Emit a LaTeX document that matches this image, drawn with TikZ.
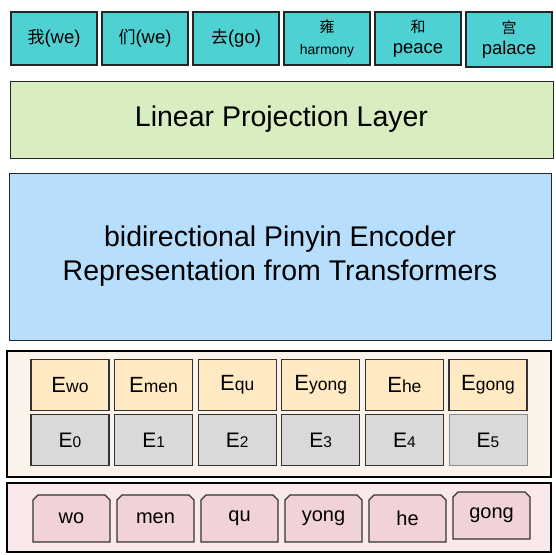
\documentclass[tikz,border=0pt]{standalone}
\usepackage{fontspec}
\setmainfont{Liberation Sans}
\newfontfamily\cjk{Noto Sans CJK SC}
\usetikzlibrary{positioning,shapes.misc}
\definecolor{wordfill}{RGB}{78,209,210}
\definecolor{linfill}{RGB}{216,237,192}
\definecolor{encfill}{RGB}{183,222,252}
\definecolor{embpanelfill}{RGB}{251,242,233}
\definecolor{tokfill}{RGB}{255,234,196}
\definecolor{posfill}{RGB}{217,217,217}
\definecolor{pypanelfill}{RGB}{249,233,235}
\definecolor{pyfill}{RGB}{240,210,215}
\newcommand\embtok[1]{{\fontsize{22}{22}\selectfont E}{\fontsize{17.5}{17.5}\selectfont #1}}
\newcommand\embpos[1]{{\fontsize{21}{21}\selectfont E}{\fontsize{15.5}{15.5}\selectfont #1}}
\newcommand\smallcjk[1]{{\cjk\fontsize{15}{15}\selectfont #1}}
\tikzset{
    %Define style for output characters
    word/.style={
      rectangle,
      draw=black!85, line width=1.3pt,
      outer sep=0pt,
      fill=wordfill,
      minimum width=86pt,
      minimum height=53pt,
      inner sep=0pt,
      align=center,
      font=\fontsize{18.5}{20}\selectfont},
    % Define style for big layers
    layer/.style={
      rectangle,
      draw=black!85, line width=1pt,
      align=center,
      font=\fontsize{28.5}{34}\selectfont},
    % Define style for background panels
    panel/.style={
      rectangle,
      draw=black, line width=1.5pt},
    % Define style for embeddings
    tokemb/.style={
      rectangle,
      draw=black!80, line width=1.2pt,
      outer sep=0pt,
      fill=tokfill,
      minimum width=78pt,
      minimum height=51pt,
      inner sep=0pt},
    posemb/.style={
      tokemb,
      fill=posfill},
    % Define style for pinyin inputs
    pinyin/.style={
      chamfered rectangle,
      chamfered rectangle corners={north west,north east},
      chamfered rectangle sep=2.5pt,
      draw=black!80, line width=1.1pt,
      outer sep=0pt,
      fill=pyfill,
      minimum width=77pt,
      minimum height=47pt,
      inner sep=0pt,
      font=\fontsize{20}{20}\selectfont}
}
\begin{document}
\begin{tikzpicture}[x=1pt, y=-1pt]
    \useasboundingbox (0,0) rectangle (556,554);

    \node[word] (w1) at (54,38.5) {{\cjk\fontsize{17}{17}\selectfont 我}(we)};
    \node[word, right=5pt of w1] (w2) {{\cjk\fontsize{17}{17}\selectfont 们}(we)};
    \node[word, right=5pt of w2] (w3) {{\cjk\fontsize{17}{17}\selectfont 去}(go)};
    \node[word, right=5pt of w3] (w4)
      {\smallcjk{雍}\\[2pt]{\fontsize{14}{14}\selectfont harmony}};
    \node[word, right=5pt of w4] (w5) {\smallcjk{和}\\[1pt]peace};
    \node[word, right=5pt of w5, line width=2pt, minimum height=55pt,
      yshift=-1pt] (w6) {\smallcjk{宫}\\[1pt]palace};

    \node[layer, fill=linfill, minimum width=543pt, minimum height=77pt]
      (linear) at (281.5,119.5) {Linear Projection Layer};

    \node[layer, fill=encfill, minimum width=542pt, minimum height=167pt]
      (encoder) at (280,256.5)
      {bidirectional Pinyin Encoder\\Representation from Transformers};

    \node[panel, fill=embpanelfill, minimum width=544pt, minimum height=126pt]
      (embpanel) at (279,414) {};
    \node[tokemb] (ewo) at (70,385) {\embtok{wo}};
    \node[tokemb, right=5.6pt of ewo] (emen) {\embtok{men}};
    \node[tokemb, right=5.6pt of emen] (equ) {\embtok{qu}};
    \node[tokemb, right=5.6pt of equ] (eyong) {\embtok{yong}};
    \node[tokemb, right=5.6pt of eyong] (ehe) {\embtok{he}};
    \node[tokemb, right=5.6pt of ehe] (egong) {\embtok{gong}};

    \node[posemb, below=4pt of ewo] (e0) {\embpos{0}};
    \node[posemb, right=5.6pt of e0] (e1) {\embpos{1}};
    \node[posemb, right=5.6pt of e1] (e2) {\embpos{2}};
    \node[posemb, right=5.6pt of e2] (e3) {\embpos{3}};
    \node[posemb, right=5.6pt of e3] (e4) {\embpos{4}};
    \node[posemb, right=5.6pt of e4, draw=black!45, line width=0.8pt]
      (e5) {\embpos{5}};

    \node[panel, line width=1.2pt, fill=pypanelfill, minimum width=544pt,
      minimum height=69pt] (pypanel) at (279,517.5) {};
    \node[pinyin] (pwo) at (71.5,518.5) {wo};
    \node[pinyin, right=7pt of pwo] (pmen) {men};
    \node[pinyin, right=7pt of pmen] (pqu) {qu};
    \node[pinyin, right=7pt of pqu] (pyong) {yong};
    \node[pinyin, right=7pt of pyong] (phe) {he};
    \node[pinyin, right=7pt of phe, yshift=3pt] (pgong) {gong};
  \end{tikzpicture}
\end{document}
